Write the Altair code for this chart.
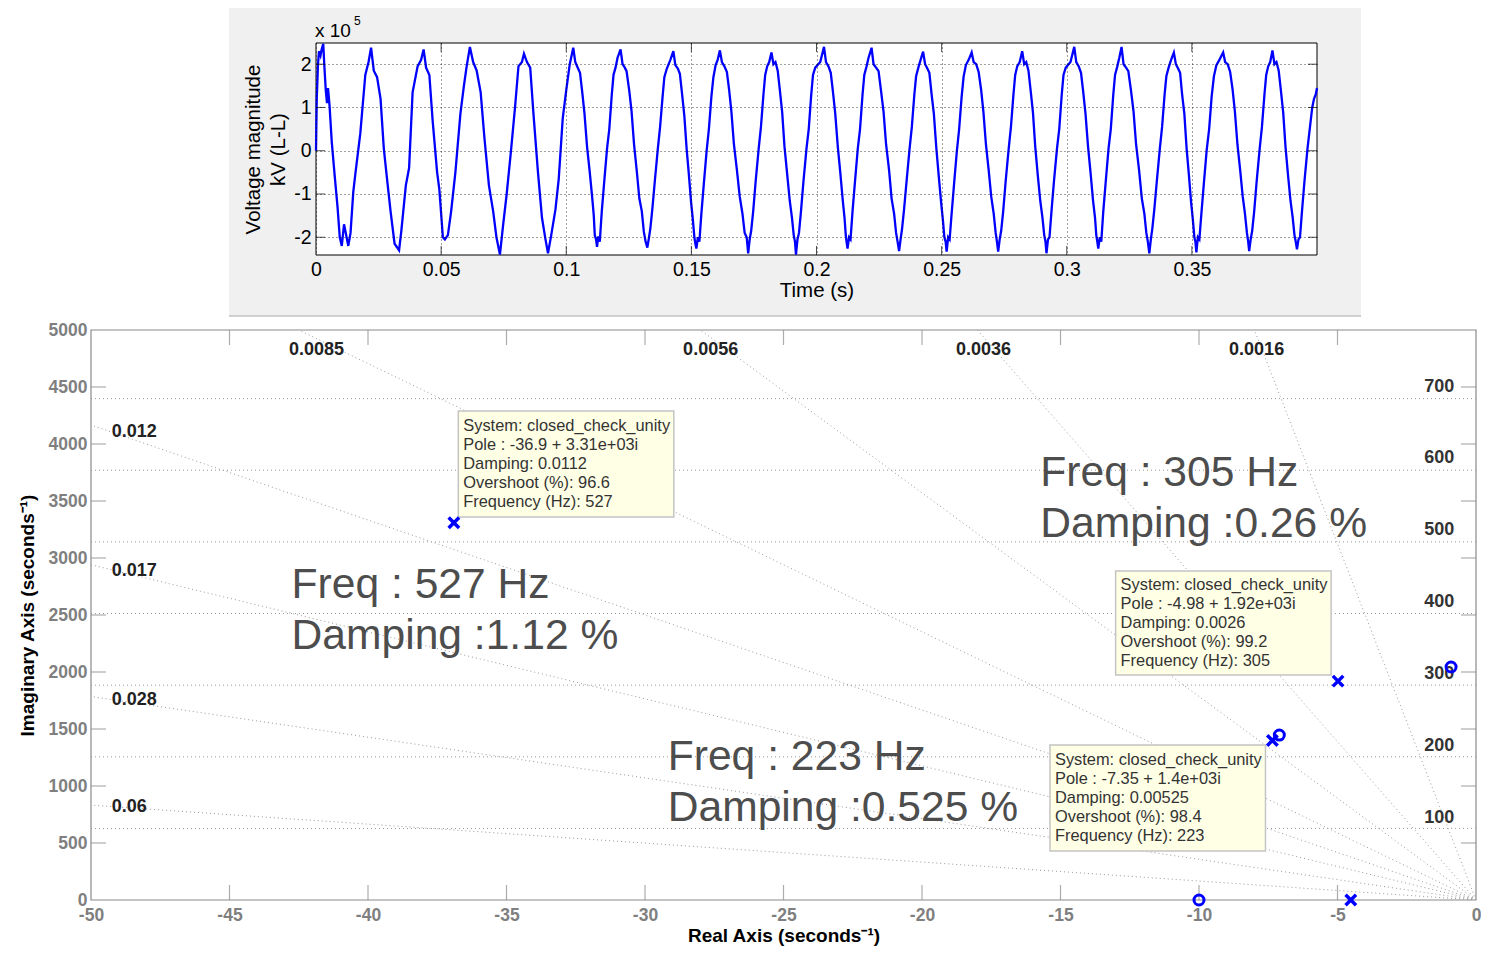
import altair as alt
import pandas as pd

FONT = "Liberation Sans"
BLUE = "#0000ff"

# ---------------- top panel: voltage waveform (time in ms, value in 1e5 kV) ----------------
wave_points = [
    (0.0, 0.0), (0.3, 1.2), (0.8, 2.0), (1.2, 2.3), (1.8, 2.2), (2.3, 2.35), (2.9, 2.47), (3.3, 2.0),
    (3.9, 1.4), (4.4, 1.1), (4.8, 1.45), (5.4, 1.05), (6.3, 0.2), (7.5, -0.6), (8.6, -1.3), (9.5, -2.0),
    (10.3, -2.2), (11.2, -1.7), (11.9, -1.9), (12.9, -2.2), (13.8, -1.9), (14.9, -0.95), (15.8, -0.5),
    (17.7, 0.4), (19.7, 1.75), (21.0, 2.05), (22.0, 2.38), (23.1, 1.85), (24.4, 1.7), (25.8, 1.2),
    (27.1, 0.05), (28.2, -0.55), (29.8, -1.4), (31.4, -2.15), (33.2, -2.3), (34.1, -1.85), (35.9, -0.8),
    (37.2, -0.4), (38.6, 1.35), (40.6, 1.95), (42.0, 2.1), (43.0, 2.34), (44.0, 1.92), (45.3, 1.75),
    (46.6, 0.7), (48.4, -0.5), (49.3, -0.9), (50.7, -2.0), (51.5, -2.05), (52.7, -1.95), (54.0, -1.4),
    (55.7, -0.5), (57.7, 0.85), (59.1, 1.5), (60.2, 1.95), (61.5, 2.4), (62.8, 2.05), (64.2, 1.85),
    (65.8, 1.35), (67.3, 0.3), (69.1, -0.8), (70.8, -1.4), (72.1, -2.0), (73.5, -2.4), (74.8, -1.7),
    (76.2, -1.0), (78.0, 0.05), (79.6, 1.05), (80.9, 1.95), (82.3, 2.05), (83.1, 2.24), (84.3, 2.05),
    (85.6, 1.92), (86.9, 0.85), (88.7, -0.5), (90.3, -1.55), (91.7, -2.05), (92.7, -2.37), (94.0, -1.95),
    (95.7, -1.35), (97.0, -0.65), (98.6, 0.75), (100.0, 1.4), (101.4, 2.0), (102.8, 2.38),
    (103.6, 2.05), (104.6, 1.92), (105.5, 1.80), (106.4, 1.35), (107.3, 0.85), (108.3, 0.10), (109.4, -0.50),
    (110.4, -1.10), (111.0, -1.50), (111.4, -1.95), (111.9, -2.05), (112.3, -2.22), (112.8, -1.98),
    (113.4, -2.10), (114.2, -1.40), (115.2, -0.70), (116.3, 0.05), (117.2, 0.50), (118.2, 1.30),
    (118.9, 1.76), (119.7, 1.92), (120.5, 2.15), (121.7, 2.34),
    (122.5, 2.00), (123.4, 1.92), (124.1, 1.84), (125.2, 1.38), (126.1, 0.91), (127.1, 0.14), (128.2, -0.48),
    (129.2, -1.10), (130.2, -1.40), (131.0, -1.87), (131.7, -2.10), (132.4, -2.24), (133.0, -2.03),
    (133.6, -1.80), (134.4, -1.35), (135.4, -0.70), (136.6, 0.05), (137.5, 0.55), (138.5, 1.25),
    (139.2, 1.70), (140.2, 1.90), (141.6, 2.10), (142.8, 2.30),
    (143.6, 1.98), (144.6, 1.90), (145.4, 1.78), (146.3, 1.30), (147.2, 0.80), (148.1, 0.05), (149.0, -0.55),
    (149.9, -1.20), (150.6, -1.60), (151.2, -2.00), (151.6, -2.15), (152.0, -2.26), (152.6, -2.00),
    (153.2, -2.10), (154.0, -1.45), (155.0, -0.75), (156.1, 0.00), (157.0, 0.50), (158.0, 1.25),
    (158.8, 1.70), (159.7, 1.98), (160.5, 2.10), (161.4, 2.32),
    (162.2, 2.05), (163.2, 1.95), (164.2, 1.82), (165.1, 1.40), (166.0, 0.90), (167.0, 0.15), (168.2, -0.45),
    (169.3, -1.05), (170.4, -1.45), (171.3, -1.90), (172.1, -2.00), (172.7, -2.37), (173.3, -2.05),
    (173.9, -1.85), (174.7, -1.40), (175.7, -0.70), (176.9, 0.05), (177.8, 0.55), (178.8, 1.30),
    (179.5, 1.75), (180.3, 1.95), (181.1, 2.05), (182.0, 2.27),
    (182.8, 2.00), (183.6, 2.05), (184.5, 1.85), (185.4, 1.38), (186.3, 0.88), (187.2, 0.10), (188.3, -0.55),
    (189.3, -1.15), (190.2, -1.55), (190.9, -1.95), (191.4, -2.10), (191.8, -2.40), (192.4, -2.05),
    (193.0, -1.90), (193.8, -1.40), (194.8, -0.70), (196.0, 0.05), (196.9, 0.50), (197.9, 1.30),
    (198.6, 1.75), (199.5, 1.92), (201.5, 2.05), (203.0, 2.40),
    (203.8, 2.05), (204.8, 1.95), (205.7, 1.80), (206.6, 1.35), (207.5, 0.85), (208.5, 0.10), (209.5, -0.50),
    (210.5, -1.15), (211.2, -1.55), (211.7, -1.95), (212.0, -2.10), (212.4, -2.26), (213.0, -2.00),
    (213.6, -2.05), (214.4, -1.40), (215.4, -0.70), (216.5, 0.05), (217.4, 0.50), (218.4, 1.30),
    (219.1, 1.75), (220.0, 1.95), (220.8, 2.15), (222.0, 2.38),
    (222.8, 2.00), (223.8, 1.92), (224.8, 1.84), (225.8, 1.38), (226.8, 0.90), (227.8, 0.15), (229.0, -0.45),
    (230.0, -1.10), (231.0, -1.45), (231.8, -1.90), (232.4, -2.10), (233.0, -2.32), (233.6, -2.05),
    (234.2, -1.80), (235.0, -1.35), (236.0, -0.70), (237.2, 0.05), (238.1, 0.55), (239.1, 1.30),
    (239.8, 1.72), (240.7, 1.92), (241.6, 2.10), (242.6, 2.29),
    (243.4, 2.00), (244.3, 1.90), (245.1, 1.80), (246.0, 1.30), (246.9, 0.85), (247.9, 0.05), (248.8, -0.55),
    (249.8, -1.20), (250.5, -1.60), (251.1, -2.00), (251.6, -2.10), (252.0, -2.33), (252.6, -2.00),
    (253.2, -2.05), (254.0, -1.45), (255.0, -0.75), (256.1, 0.00), (257.0, 0.50), (258.0, 1.25),
    (258.8, 1.72), (259.7, 1.98), (260.8, 2.10), (262.0, 2.27),
    (262.8, 2.05), (263.8, 2.00), (264.8, 1.82), (265.8, 1.40), (266.7, 0.90), (267.7, 0.15), (268.8, -0.45),
    (269.8, -1.05), (270.8, -1.45), (271.6, -1.90), (272.1, -2.10), (272.6, -2.33), (273.2, -2.05),
    (273.8, -1.85), (274.6, -1.40), (275.6, -0.70), (276.8, 0.05), (277.7, 0.55), (278.7, 1.30),
    (279.4, 1.75), (280.2, 1.95), (281.2, 2.05), (282.2, 2.30),
    (283.0, 2.00), (283.8, 2.05), (284.7, 1.85), (285.6, 1.38), (286.5, 0.88), (287.4, 0.10), (288.4, -0.55),
    (289.4, -1.15), (290.3, -1.55), (291.0, -1.95), (291.5, -2.10), (291.9, -2.37), (292.5, -2.05),
    (293.1, -2.00), (293.9, -1.40), (294.9, -0.70), (296.1, 0.05), (297.0, 0.50), (298.0, 1.30),
    (298.7, 1.75), (299.6, 1.92), (301.5, 2.05), (303.0, 2.40),
    (303.8, 2.05), (304.8, 1.95), (305.7, 1.80), (306.6, 1.35), (307.5, 0.85), (308.5, 0.10), (309.5, -0.50),
    (310.5, -1.15), (311.3, -1.55), (311.8, -1.95), (312.2, -2.10), (312.6, -2.26), (313.2, -2.00),
    (313.8, -2.10), (314.6, -1.40), (315.6, -0.70), (316.7, 0.05), (317.6, 0.50), (318.6, 1.30),
    (319.3, 1.75), (320.2, 1.95), (321.0, 2.15), (321.9, 2.40),
    (322.7, 2.00), (323.7, 1.92), (324.6, 1.84), (325.7, 1.38), (326.7, 0.90), (327.7, 0.15), (328.9, -0.45),
    (330.0, -1.10), (331.0, -1.45), (331.8, -1.90), (332.4, -2.10), (333.0, -2.37), (333.6, -2.05),
    (334.2, -1.80), (335.0, -1.35), (336.0, -0.70), (337.2, 0.05), (338.1, 0.55), (339.1, 1.30),
    (339.8, 1.72), (340.7, 1.92), (341.7, 2.10), (342.8, 2.27),
    (343.6, 2.00), (344.5, 1.90), (345.3, 1.80), (346.1, 1.30), (347.0, 0.85), (347.9, 0.05), (348.8, -0.55),
    (349.7, -1.20), (350.4, -1.60), (351.0, -2.00), (351.4, -2.10), (351.8, -2.35), (352.4, -2.00),
    (353.0, -2.05), (353.8, -1.45), (354.8, -0.75), (355.9, 0.00), (356.9, 0.50), (357.9, 1.25),
    (358.8, 1.72), (359.8, 1.98), (361.0, 2.10), (362.5, 2.27),
    (363.3, 2.05), (364.3, 2.00), (365.3, 1.82), (366.3, 1.40), (367.2, 0.90), (368.2, 0.15), (369.3, -0.45),
    (370.3, -1.05), (371.2, -1.45), (372.0, -1.90), (372.5, -2.10), (372.9, -2.32), (373.5, -2.05),
    (374.1, -1.85), (374.9, -1.40), (375.9, -0.70), (377.1, 0.05), (378.0, 0.55), (379.0, 1.30),
    (379.7, 1.75), (380.5, 1.95), (381.3, 2.05), (382.2, 2.32),
    (383.0, 2.00), (383.8, 2.05), (384.7, 1.85), (385.6, 1.38), (386.5, 0.88), (387.4, 0.10), (388.4, -0.55),
    (389.4, -1.15), (390.3, -1.55), (391.0, -1.95), (391.5, -2.10), (392.0, -2.28), (392.6, -2.05),
    (393.2, -2.00), (394.0, -1.40), (395.0, -0.70), (396.2, 0.05), (397.1, 0.50), (398.1, 1.00),
    (398.8, 1.20), (399.5, 1.30), (400.0, 1.45),
]
top_xticks = [0, 0.05, 0.1, 0.15, 0.2, 0.25, 0.3, 0.35]
top_yticks = [-2, -1, 0, 1, 2]
TOP_XDOM = [0, 0.4]
TOP_YDOM = [-2.41, 2.49]

# ---------------- bottom panel: pole-zero map ----------------
pole_re = [-36.9, -4.98, -7.35, -4.52]
pole_im = [3310, 1920, 1400, 0]
zero_re = [-10.0, -7.1, -0.9]
zero_im = [0, 1447, 2044]

zeta_vals = [0.0016, 0.0036, 0.0056, 0.0085, 0.012, 0.017, 0.028, 0.06]
zeta_top_labels = ["0.0085", "0.0056", "0.0036", "0.0016"]
zeta_top_x = [-41.86, -27.63, -17.78, -7.92]
zeta_top_y = [4825, 4825, 4825, 4825]
zeta_left_labels = ["0.012", "0.017", "0.028", "0.06"]
zeta_left_x = [-49.25, -49.25, -49.25, -49.25]
zeta_left_y = [4105, 2886, 1754, 816]

wn_hz = [100, 200, 300, 400, 500, 600, 700]
wn_label_x = [-1.33] * 7
wn_label_y = [719, 1351, 1982, 2614, 3246, 3877, 4500]

tip_text = [
    "System: closed_check_unity\nPole : -36.9 + 3.31e+03i\nDamping: 0.0112\nOvershoot (%): 96.6\nFrequency (Hz): 527",
    "System: closed_check_unity\nPole : -4.98 + 1.92e+03i\nDamping: 0.0026\nOvershoot (%): 99.2\nFrequency (Hz): 305",
    "System: closed_check_unity\nPole : -7.35 + 1.4e+03i\nDamping: 0.00525\nOvershoot (%): 98.4\nFrequency (Hz): 223",
]
tip_x0 = [-36.74, -13.01, -15.38]
tip_x1 = [-28.96, -5.23, -7.60]
tip_y0 = [3360, 1974, 430]
tip_y1 = [4289, 2886, 1360]
tip_text_x = [-36.56, -12.83, -15.20]
tip_text_y = [4114, 2719, 1184]

ann_text = [
    "Freq : 527 Hz\nDamping :1.12 %",
    "Freq : 305 Hz\nDamping :0.26 %",
    "Freq : 223 Hz\nDamping :0.525 %",
]
ann_x = [-42.76, -15.73, -29.18]
ann_y = [2649, 3632, 1140]

bx_ticks = list(range(-50, 1, 5))
by_ticks = list(range(0, 5001, 500))
BX_DOM = [-50, 0]
BY_DOM = [0, 5000]

# ============ TOP CHART ============
TW, TH = 1001, 212
df_wave = pd.DataFrame(wave_points, columns=["ms", "v"])
df_wave["t"] = df_wave["ms"] / 1000.0

tx_scale = alt.Scale(domain=TOP_XDOM, nice=False, zero=False)
ty_scale = alt.Scale(domain=TOP_YDOM, nice=False, zero=False)
tx_axis = alt.Axis(values=top_xticks, labelExpr="datum.value + ''", title="Time (s)",
                   grid=True, gridColor="#000000", gridDash=[1, 3], gridOpacity=0.75,
                   ticks=False, domain=False, labelFont=FONT, labelFontSize=19.5, labelColor="#000000",
                   titleFont=FONT, titleFontSize=20.5, titleFontWeight="normal", titleColor="#000000",
                   labelPadding=5, titlePadding=2, labelFlush=False, labelOverlap=False, zindex=1)
ty_axis = alt.Axis(values=top_yticks, labelExpr="datum.value + ''",
                   title=["Voltage magnitude", "kV (L-L)"], titleLineHeight=25,
                   grid=True, gridColor="#000000", gridDash=[1, 3], gridOpacity=0.75,
                   ticks=False, domain=False, labelFont=FONT, labelFontSize=19.5, labelColor="#000000",
                   titleFont=FONT, titleFontSize=20.5, titleFontWeight="normal", titleColor="#000000",
                   labelPadding=5, titlePadding=5, labelFlush=False, labelOverlap=False, zindex=1)

one = pd.DataFrame({"k": [0]})
top_bg = alt.Chart(one).mark_rect(color="#f0f0f0").encode(
    x=alt.value(-87), x2=alt.value(1045), y=alt.value(-35), y2=alt.value(273))
top_bg_line = alt.Chart(one).mark_rule(color="#a8a8a8", strokeWidth=1).encode(
    x=alt.value(-87), x2=alt.value(1045), y=alt.value(273))
df_tbox = pd.DataFrame({"x0": [TOP_XDOM[0]], "x1": [TOP_XDOM[1]], "y0": [TOP_YDOM[0]], "y1": [TOP_YDOM[1]]})
top_box = alt.Chart(df_tbox).mark_rect(fill="white", stroke="black", strokeWidth=1).encode(
    x=alt.X("x0:Q", scale=tx_scale, axis=tx_axis), x2="x1:Q",
    y=alt.Y("y0:Q", scale=ty_scale, axis=ty_axis), y2="y1:Q")
top_line = alt.Chart(df_wave).mark_line(color=BLUE, strokeWidth=2.3).encode(
    x=alt.X("t:Q", scale=tx_scale, axis=tx_axis),
    y=alt.Y("v:Q", scale=ty_scale, axis=ty_axis), order="ms:Q")


def top_ticks(rows, orient, xo, yo):
    df = pd.DataFrame(rows, columns=["x", "y"])
    return alt.Chart(df).mark_tick(orient=orient, size=9, thickness=1, color="black",
                                   xOffset=xo, yOffset=yo).encode(
        x=alt.X("x:Q", scale=tx_scale, axis=tx_axis), y=alt.Y("y:Q", scale=ty_scale, axis=ty_axis))


top_t_bot = top_ticks([(xv, TOP_YDOM[0]) for xv in top_xticks[1:]], "vertical", 0, -4.5)
top_t_top = top_ticks([(xv, TOP_YDOM[1]) for xv in top_xticks[1:]], "vertical", 0, 4.5)
top_t_lft = top_ticks([(TOP_XDOM[0], yv) for yv in top_yticks], "horizontal", 4.5, 0)
top_t_rgt = top_ticks([(TOP_XDOM[1], yv) for yv in top_yticks], "horizontal", -4.5, 0)

exp_base = alt.Chart(pd.DataFrame({"s": ["x 10"]})).mark_text(
    font=FONT, fontSize=19, align="left", baseline="middle", color="black").encode(
    x=alt.value(-1), y=alt.value(-12), text="s:N")
exp_sup = alt.Chart(pd.DataFrame({"s": ["5"]})).mark_text(
    font=FONT, fontSize=12, align="left", baseline="middle", color="black").encode(
    x=alt.value(38), y=alt.value(-22), text="s:N")

top = alt.layer(top_bg, top_bg_line, top_box, top_line, top_t_bot, top_t_top, top_t_lft, top_t_rgt,
                exp_base, exp_sup).properties(width=TW, height=TH)

spacer = alt.Chart(one).mark_rect(opacity=0).encode(
    x=alt.value(0), x2=alt.value(10), y=alt.value(0), y2=alt.value(10)).properties(width=137, height=10)

# ============ BOTTOM CHART ============
BW, BH = 1385, 570
bx_scale = alt.Scale(domain=BX_DOM, nice=False, zero=False)
by_scale = alt.Scale(domain=BY_DOM, nice=False, zero=False)
GRAY = "#7f7f7f"
bx_axis = alt.Axis(values=bx_ticks, labelExpr="datum.value + ''", title="Real Axis (seconds⁻¹)",
                   grid=False, ticks=False, domain=False, labelFont=FONT, labelFontSize=17.5,
                   labelFontWeight="bold", labelColor=GRAY, titleFont=FONT, titleFontSize=19,
                   titleFontWeight="bold", titleColor="#000000", labelPadding=6, titlePadding=3,
                   labelFlush=False, labelOverlap=False)
by_axis = alt.Axis(values=by_ticks, labelExpr="datum.value + ''", title="Imaginary Axis (seconds⁻¹)",
                   grid=False, ticks=False, domain=False, labelFont=FONT, labelFontSize=17.5,
                   labelFontWeight="bold", labelColor=GRAY, titleFont=FONT, titleFontSize=19,
                   titleFontWeight="bold", titleColor="#000000", labelPadding=4, titlePadding=11,
                   labelFlush=False, labelOverlap=False)


def X(f):
    return alt.X(f, scale=bx_scale, axis=bx_axis)


def Y(f):
    return alt.Y(f, scale=by_scale, axis=by_axis)


df_bbox = pd.DataFrame({"x0": [BX_DOM[0]], "x1": [BX_DOM[1]], "y0": [BY_DOM[0]], "y1": [BY_DOM[1]]})
b_box = alt.Chart(df_bbox).mark_rect(fill="white", stroke="#8a8a8a", strokeWidth=1.2).encode(
    x=X("x0:Q"), x2="x1:Q", y=Y("y0:Q"), y2="y1:Q")

DOT = "#9a9a9a"
df_wn = pd.DataFrame({"hz": wn_hz})
b_wn = alt.Chart(df_wn).transform_calculate(
    xa="-50", xb="0",
    ya="sqrt(pow(2*PI*datum.hz,2)-2500)", yb="2*PI*datum.hz"
).mark_rule(color=DOT, strokeDash=[1, 3], strokeWidth=1, clip=True).encode(
    x=X("xa:Q"), x2="xb:Q", y=Y("ya:Q"), y2="yb:Q")

df_z = pd.DataFrame({"z": zeta_vals})
b_zeta = alt.Chart(df_z).transform_calculate(
    xa="0", ya="0", xb="-5000*datum.z/sqrt(1-datum.z*datum.z)", yb="5000"
).mark_rule(color=DOT, strokeDash=[1, 3], strokeWidth=1, clip=True).encode(
    x=X("xa:Q"), x2="xb:Q", y=Y("ya:Q"), y2="yb:Q")


def bot_ticks(rows, orient, xo, yo):
    df = pd.DataFrame(rows, columns=["x", "y"])
    return alt.Chart(df).mark_tick(orient=orient, size=15, thickness=1.2, color="#8a8a8a",
                                   xOffset=xo, yOffset=yo).encode(x=X("x:Q"), y=Y("y:Q"))


b_t_bot = bot_ticks([(xv, BY_DOM[0]) for xv in bx_ticks[1:-1]], "vertical", 0, -7.5)
b_t_top = bot_ticks([(xv, BY_DOM[1]) for xv in bx_ticks[1:-1]], "vertical", 0, 7.5)
b_t_lft = bot_ticks([(BX_DOM[0], yv) for yv in by_ticks[1:-1]], "horizontal", 7.5, 0)
b_t_rgt = bot_ticks([(BX_DOM[1], yv) for yv in by_ticks[1:-1]], "horizontal", -7.5, 0)

df_zt = pd.DataFrame({"lab": zeta_top_labels, "x": zeta_top_x, "y": zeta_top_y})
b_zt = alt.Chart(df_zt).mark_text(font=FONT, fontSize=18, fontWeight="bold", color="#222222",
                                  align="center", baseline="middle").encode(
    x=X("x:Q"), y=Y("y:Q"), text="lab:N")
df_zl = pd.DataFrame({"lab": zeta_left_labels, "x": zeta_left_x, "y": zeta_left_y})
b_zl = alt.Chart(df_zl).mark_text(font=FONT, fontSize=18, fontWeight="bold", color="#222222",
                                  align="left", baseline="middle").encode(
    x=X("x:Q"), y=Y("y:Q"), text="lab:N")
df_wl = pd.DataFrame({"lab": [str(h) for h in wn_hz], "x": wn_label_x, "y": wn_label_y})
b_wl = alt.Chart(df_wl).mark_text(font=FONT, fontSize=18, fontWeight="bold", color="#333333",
                                  align="center", baseline="middle").encode(
    x=X("x:Q"), y=Y("y:Q"), text="lab:N")

df_ann = pd.DataFrame({"txt": ann_text, "x": ann_x, "y": ann_y})
b_ann = alt.Chart(df_ann).mark_text(font=FONT, fontSize=42.6, color="#4d4d4d", align="left",
                                    baseline="alphabetic", lineBreak="\n", lineHeight=51).encode(
    x=X("x:Q"), y=Y("y:Q"), text="txt:N")

df_tipbox = pd.DataFrame({"x0": tip_x0, "x1": tip_x1, "y0": tip_y0, "y1": tip_y1})
b_tipbox = alt.Chart(df_tipbox).mark_rect(fill="#ffffe6", stroke="#c4c4c4", strokeWidth=1.5).encode(
    x=X("x0:Q"), x2="x1:Q", y=Y("y0:Q"), y2="y1:Q")
df_tiptxt = pd.DataFrame({"txt": tip_text, "x": tip_text_x, "y": tip_text_y})
b_tiptxt = alt.Chart(df_tiptxt).mark_text(font=FONT, fontSize=16.4, color="#333333", align="left",
                                          baseline="alphabetic", lineBreak="\n", lineHeight=19).encode(
    x=X("x:Q"), y=Y("y:Q"), text="txt:N")

df_pole = pd.DataFrame({"re": pole_re, "im": pole_im})
b_pole = alt.Chart(df_pole).mark_point(shape="M-1,-1L1,1M1,-1L-1,1", filled=False, color=BLUE,
                                       strokeWidth=3.5, size=110, opacity=1).encode(
    x=X("re:Q"), y=Y("im:Q"))
df_zero = pd.DataFrame({"re": zero_re, "im": zero_im})
b_zero = alt.Chart(df_zero).mark_point(shape="circle", filled=False, color=BLUE,
                                       strokeWidth=3, size=100, opacity=1).encode(
    x=X("re:Q"), y=Y("im:Q"))

bottom = alt.layer(b_box, b_wn, b_zeta, b_t_bot, b_t_top, b_t_lft, b_t_rgt, b_zt, b_zl, b_wl, b_ann,
                   b_tipbox, b_tiptxt, b_pole, b_zero).properties(width=BW, height=BH)

chart = alt.vconcat(alt.hconcat(spacer, top, spacing=0), bottom, spacing=4).properties(
    padding={"left": 10, "top": 0, "right": 0, "bottom": 0}, background="white"
).configure_view(stroke="transparent", strokeWidth=0)

chart.save("out.html", embed_options={"renderer": "svg", "actions": False})
